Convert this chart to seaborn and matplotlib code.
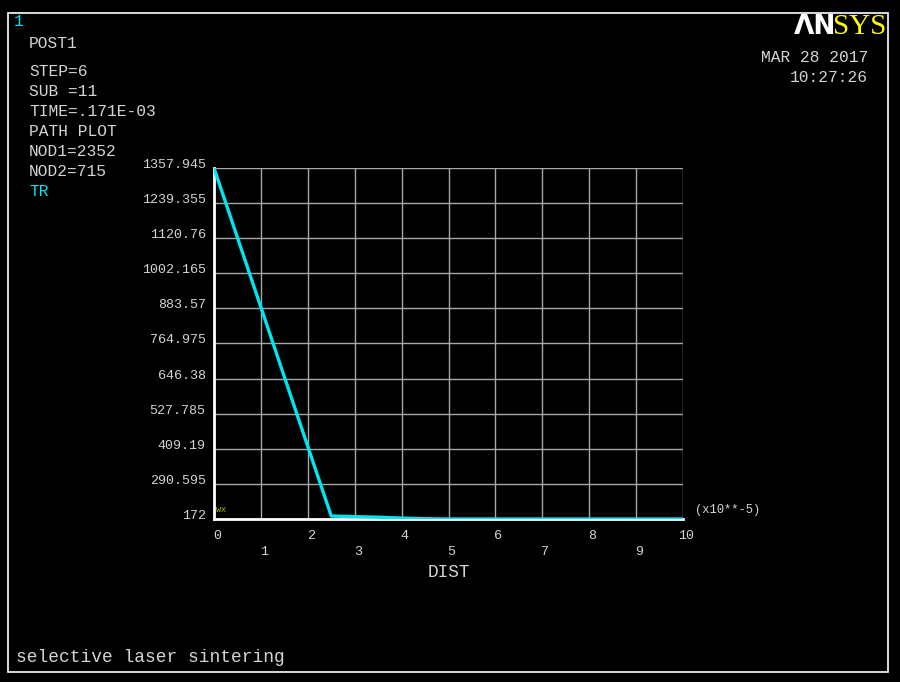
import matplotlib
matplotlib.use("Agg")
import matplotlib.pyplot as plt
import matplotlib.transforms as mtransforms
import seaborn as sns
import pandas as pd

# ---- data ----
dist = [0.0, 2.5, 3.0, 3.5, 4.0, 4.5, 5.0, 6.0, 7.0, 8.0, 9.0, 10.0]
tr = [1357.945, 182.0, 180.0, 178.0, 175.0, 173.0, 172.0, 172.0, 172.0, 172.0, 172.0, 172.0]
y_ticks = [172, 290.595, 409.19, 527.785, 646.38, 764.975, 883.57, 1002.165, 1120.76, 1239.355, 1357.945]
y_tick_labels = ["172", "290.595", "409.19", "527.785", "646.38", "764.975", "883.57",
                 "1002.165", "1120.76", "1239.355", "1357.945"]
x_ticks = [0, 1, 2, 3, 4, 5, 6, 7, 8, 9, 10]
info_lines = ["STEP=6", "SUB =11", "TIME=.171E-03", "PATH PLOT", "NOD1=2352", "NOD2=715"]

sns.set_style("dark")
plt.rcParams["font.family"] = ["Liberation Mono", "DejaVu Sans Mono"]

W, H = 900, 682
fig = plt.figure(figsize=(9, 6.82), dpi=100, facecolor="black")
TXT = "#d4d4d4"
CYAN = "#00e5ee"
HS = 11.7  # header font size

def fx(px):
    return px / W

def fy(py):
    return 1 - py / H

# outer frame
fig.add_artist(plt.Rectangle((fx(8), fy(672)), fx(880), (672 - 13) / H, fill=False,
                             edgecolor="white", linewidth=1.2, transform=fig.transFigure))

ax = fig.add_axes([fx(214), fy(519), fx(683 - 214), (519 - 168) / H])
ax.set_facecolor("black")

df = pd.DataFrame({"DIST": dist, "TR": tr})
sns.lineplot(data=df, x="DIST", y="TR", ax=ax, color=CYAN, linewidth=2.4, zorder=5)

ax.set_xlim(0, 10)
ax.set_ylim(172, 1357.945)
ax.set_yticks(y_ticks)
ax.set_yticklabels(y_tick_labels)
ax.set_xticks(x_ticks)
ax.set_xticklabels([str(t) if t % 2 == 0 else "\n" + str(t) for t in x_ticks], linespacing=1.45)
ax.grid(True, color="#a8a8a8", linewidth=1.0)
ax.tick_params(axis="y", colors=TXT, length=0, pad=6, labelsize=9.6)
ax.tick_params(axis="x", colors="#a8a8a8", labelcolor=TXT, length=7, width=1, pad=1,
               labelsize=9.6, direction="out")
ax.set_xlabel("DIST", color=TXT, fontsize=12.8)
ax.xaxis.set_label_coords(0.5, -0.128)
ax.set_ylabel("")
for s in ["top", "right"]:
    ax.spines[s].set_visible(False)
for s in ["left", "bottom"]:
    ax.spines[s].set_visible(True)
    ax.spines[s].set_color("white")
    ax.spines[s].set_linewidth(2)

up = mtransforms.ScaledTranslation(0, 0.045, fig.dpi_scale_trans)
for lbl in ax.get_yticklabels():
    lbl.set_transform(lbl.get_transform() + up)
right = mtransforms.ScaledTranslation(0.03, 0, fig.dpi_scale_trans)
for lbl in ax.get_xticklabels():
    lbl.set_transform(lbl.get_transform() + right)

ax.text(1.025, 0.025, "(x10**-5)", transform=ax.transAxes, color=TXT, fontsize=8.7,
        va="center", ha="left")
ax.text(0.005, 0.025, "WX", transform=ax.transAxes, color="#b0c000", fontsize=6,
        va="center", ha="left")

# header texts
fig.text(fx(14), fy(22), "1", color=CYAN, fontsize=HS, va="center", ha="left")
fig.text(fx(29), fy(43), "POST1", color=TXT, fontsize=HS, va="center", ha="left")
for i, line in enumerate(info_lines):
    fig.text(fx(29), fy(72 + i * 20), line, color=TXT, fontsize=HS, va="center", ha="left")
fig.text(fx(29), fy(192), "TR", color=CYAN, fontsize=HS, va="center", ha="left")

fig.text(fx(868), fy(57), "MAR 28 2017", color=TXT, fontsize=HS, va="center", ha="right")
fig.text(fx(868), fy(77), "10:27:26", color=TXT, fontsize=HS, va="center", ha="right")

# logo
fig.text(fx(794), fy(27), "ΛN", color="white", fontsize=19, fontweight="bold",
         family="DejaVu Sans", va="center", ha="left")
fig.text(fx(886), fy(27), "SYS", color="#ffff00", fontsize=21, family="Liberation Serif",
         va="center", ha="right")

fig.text(fx(16), fy(657), "selective laser sintering", color=TXT, fontsize=12.9,
         va="center", ha="left")

fig.savefig("out.png", dpi=100, facecolor="black")
